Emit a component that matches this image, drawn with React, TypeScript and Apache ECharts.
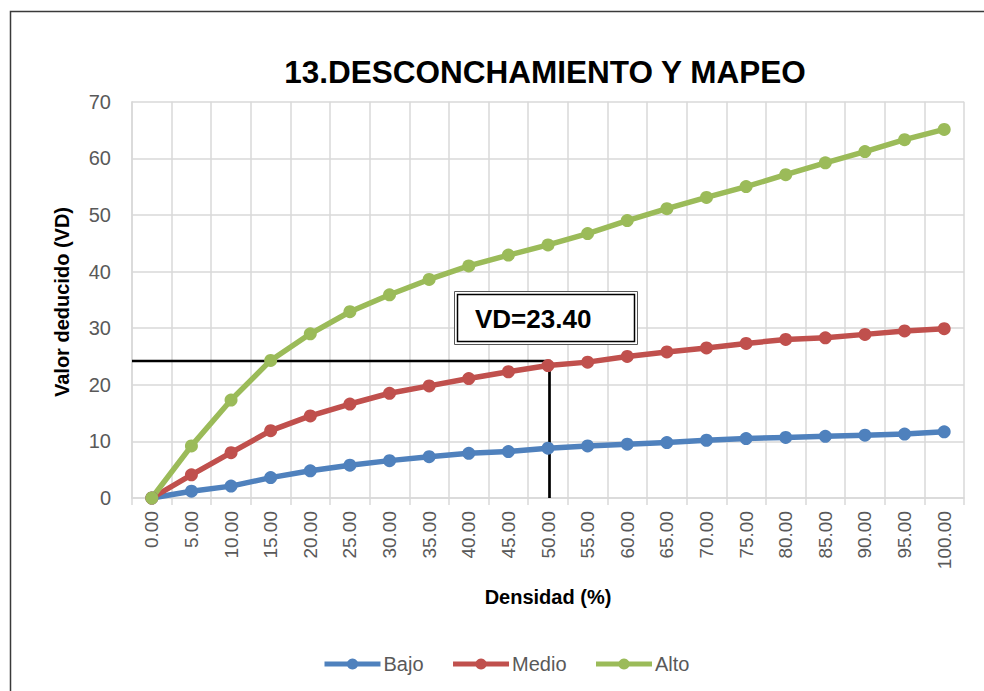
import React, { useEffect, useRef } from "react";
import * as echarts from "echarts";

// Densidad (%) categories
const densidad = [
  "0.00", "5.00", "10.00", "15.00", "20.00", "25.00", "30.00", "35.00", "40.00", "45.00", "50.00",
  "55.00", "60.00", "65.00", "70.00", "75.00", "80.00", "85.00", "90.00", "95.00", "100.00",
];

// Valor deducido per severity level
const bajo = [0, 1.2, 2.1, 3.6, 4.8, 5.8, 6.6, 7.3, 7.9, 8.2, 8.8, 9.2, 9.5, 9.8, 10.2, 10.5, 10.7, 10.9, 11.1, 11.3, 11.7];
const medio = [0, 4.1, 8.0, 11.9, 14.5, 16.6, 18.5, 19.8, 21.1, 22.3, 23.4, 24.0, 25.0, 25.8, 26.5, 27.3, 28.0, 28.3, 28.9, 29.5, 29.9];
const alto = [0, 9.2, 17.3, 24.3, 29.0, 32.9, 35.9, 38.6, 41.0, 42.9, 44.7, 46.7, 49.0, 51.1, 53.1, 55.0, 57.1, 59.2, 61.2, 63.3, 65.1];

// Reading of the deduct value at the selected density
const vdDensidad = "50.00";
const vdValor = 23.4;
const guideLevel = 24.2;

const FONT = "'Liberation Sans', Arial, sans-serif";
const GRAY = "#595959";
const GRID = "#d9d9d9";

export default function App() {
  const ref = useRef<HTMLDivElement>(null);

  useEffect(() => {
    if (!ref.current) return;
    const chart = echarts.init(ref.current, null, { renderer: "svg" });

    const mkSeries = (name: string, data: number[], color: string) => ({
      name,
      type: "line",
      data,
      symbol: "circle",
      symbolSize: 13,
      lineStyle: { color, width: 5.5 },
      itemStyle: { color },
      z: 3,
    });

    chart.setOption({
      animation: false,
      backgroundColor: "#ffffff",
      textStyle: { fontFamily: FONT },
      title: {
        text: "13.DESCONCHAMIENTO Y MAPEO",
        left: 540,
        top: 51,
        textAlign: "center",
        textStyle: { fontFamily: FONT, fontSize: 31.5, fontWeight: "bold", color: "#000" },
      },
      grid: { left: 132, right: 20, top: 101.7, bottom: 193 },
      xAxis: {
        type: "category",
        data: densidad,
        boundaryGap: true,
        axisLine: { lineStyle: { color: GRID, width: 1.5 } },
        axisTick: { show: true, length: 7, lineStyle: { color: GRID, width: 1.5 } },
        axisLabel: { rotate: 90, color: GRAY, fontSize: 19, margin: 13, fontFamily: FONT, interval: 0 },
        splitLine: { show: true, interval: 0, lineStyle: { color: GRID, width: 1.5 } },
      },
      yAxis: {
        type: "value",
        min: 0,
        max: 70,
        interval: 10,
        axisLine: { show: true, lineStyle: { color: GRID, width: 1.5 } },
        axisTick: { show: false },
        axisLabel: { color: GRAY, fontSize: 20, margin: 21, fontFamily: FONT },
        splitLine: { lineStyle: { color: GRID, width: 1.5 } },
      },
      legend: {
        left: 322,
        top: 654,
        padding: 0,
        itemWidth: 56,
        itemHeight: 14,
        itemGap: 27,
        lineStyle: { width: 5 },
        textStyle: { color: GRAY, fontSize: 20, fontFamily: FONT, padding: [0, 0, 0, -2] },
        data: ["Bajo", "Medio", "Alto"],
      },
      series: [
        mkSeries("Bajo", bajo, "#4f81bd"),
        mkSeries("Medio", medio, "#c0504d"),
        mkSeries("Alto", alto, "#9bbb59"),
      ],
    });

    const grid = { xAxisIndex: 0, yAxisIndex: 0 };
    const p0 = chart.convertToPixel(grid, [densidad[0], 0]) as number[];
    const p1 = chart.convertToPixel(grid, [densidad[1], 0]) as number[];
    const axisLeft = p0[0] - (p1[0] - p0[0]) / 2;
    const corner = chart.convertToPixel(grid, [vdDensidad, guideLevel]) as number[];
    const base = chart.convertToPixel(grid, [vdDensidad, 0]) as number[];
    const cx = corner[0] + 1.5;

    chart.setOption({
      graphic: [
        {
          type: "rect",
          shape: { x: 10.5, y: 11.5, width: 1100, height: 800 },
          style: { fill: "none", stroke: "#3a3a3a", lineWidth: 1.5 },
          silent: true,
        },
        {
          type: "text",
          x: 62,
          y: 302,
          rotation: Math.PI / 2,
          style: {
            text: "Valor deducido (VD)",
            fontFamily: FONT,
            fontSize: 20,
            fontWeight: "bold",
            fill: "#000",
            align: "center",
            verticalAlign: "middle",
          },
        },
        {
          type: "text",
          x: 548,
          y: 597,
          style: {
            text: "Densidad (%)",
            fontFamily: FONT,
            fontSize: 20,
            fontWeight: "bold",
            fill: "#000",
            align: "center",
            verticalAlign: "middle",
          },
        },
        {
          type: "polyline",
          z: 1,
          shape: { points: [[axisLeft, corner[1]], [cx, corner[1]], [cx, base[1]]] },
          style: { stroke: "#000", lineWidth: 2.7, fill: "none" },
        },
        {
          type: "rect",
          z: 5,
          shape: { x: 454.5, y: 291.5, width: 183, height: 53 },
          style: { fill: "#fff", stroke: "#555", lineWidth: 1 },
        },
        {
          type: "rect",
          z: 6,
          shape: { x: 457.5, y: 294.5, width: 177, height: 47 },
          style: { fill: "#fff", stroke: "#000", lineWidth: 1.5 },
        },
        {
          type: "text",
          z: 7,
          x: 475,
          y: 319,
          style: {
            text: "VD=" + vdValor.toFixed(2),
            fontFamily: FONT,
            fontSize: 26,
            fontWeight: "bold",
            fill: "#000",
            align: "left",
            verticalAlign: "middle",
          },
        },
      ],
    });

    return () => chart.dispose();
  }, []);

  return (
    <div
      ref={ref}
      style={{ position: "fixed", left: 0, top: 0, width: 984, height: 691, background: "#fff" }}
    />
  );
}
